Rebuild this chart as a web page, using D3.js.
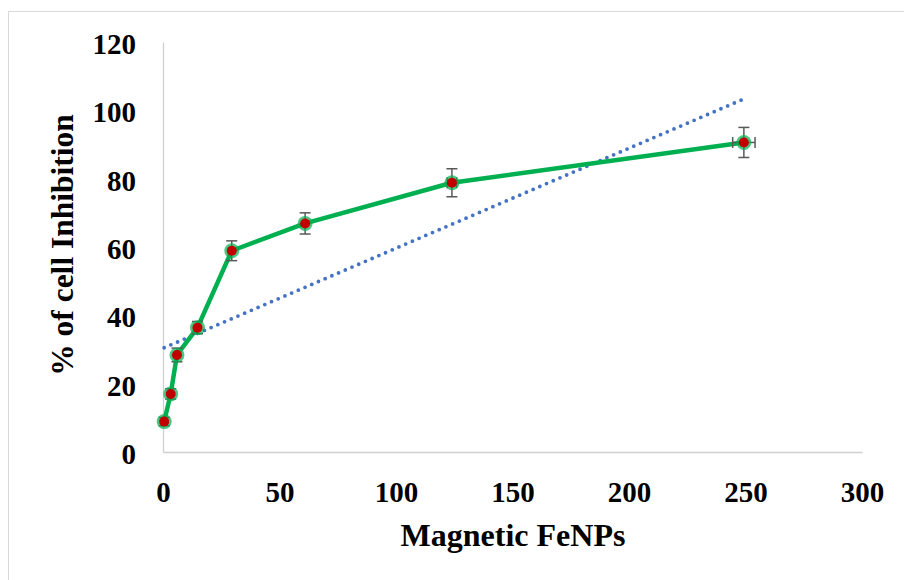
<!DOCTYPE html>
<html><head><meta charset="utf-8">
<script src="https://cdn.jsdelivr.net/npm/d3@7"></script>
<style>body{margin:0;background:#fff}svg{display:block}</style>
</head><body><svg id="c" width="904" height="580"></svg>
<script>
const concentrations = [0.5, 3.3, 6.0, 14.8, 29.5, 61.0, 124.0, 249.3];
const inhibition = [8.9, 17.0, 28.4, 36.4, 58.9, 66.9, 78.8, 90.6];
const yError = [1.2, 1.5, 2.0, 1.8, 2.9, 3.1, 4.1, 4.4];
const xError = [0, 0, 0, 0, 0, 0, 2.0, 4.8];
const xTicks = [0, 50, 100, 150, 200, 250, 300];
const yTicks = [0, 20, 40, 60, 80, 100, 120];
const xTitle = "Magnetic FeNPs";
const yTitle = "% of cell Inhibition";

const svg = d3.select("#c");
const x = d3.scaleLinear().domain([0, 300]).range([163, 862]);
const y = d3.scaleLinear().domain([0, 120]).range([452, 42]);
const font = "'Liberation Serif','Times New Roman',serif";

// outer frame
svg.append("rect").attr("x", 8.5).attr("y", 11.5).attr("width", 1000).attr("height", 1000)
  .attr("fill", "none").attr("stroke", "#d9d9d9").attr("stroke-width", 1);

// axes
const xAxis = d3.axisBottom(x).tickValues(xTicks).tickSize(0).tickPadding(0);
const gx = svg.append("g").attr("transform", `translate(0,${y(0)})`).call(xAxis);
gx.select(".domain").attr("stroke", "#d0d0d0").attr("stroke-width", 1.3);
gx.selectAll("text").attr("font-family", font).attr("font-weight", "bold")
  .attr("font-size", 29).attr("fill", "#000").attr("dy", null).attr("y", 50);

const yAxis = d3.axisLeft(y).tickValues(yTicks).tickSize(0).tickPadding(27);
const gy = svg.append("g").attr("transform", `translate(${x(0)},0)`).call(yAxis);
gy.select(".domain").attr("stroke", "#d0d0d0").attr("stroke-width", 1.3);
gy.selectAll("text").attr("font-family", font).attr("font-weight", "bold")
  .attr("font-size", 29).attr("fill", "#000").attr("dy", "0.4em");

// titles
svg.append("text").attr("x", 513).attr("y", 546).attr("text-anchor", "middle")
  .attr("font-family", font).attr("font-weight", "bold").attr("font-size", 32).text(xTitle);
svg.append("text").attr("transform", "translate(73,245) rotate(-90)").attr("text-anchor", "middle")
  .attr("font-family", font).attr("font-weight", "bold").attr("font-size", 31.5).text(yTitle);

const pts = concentrations.map((c, i) => ({x: c, y: inhibition[i], ey: yError[i], ex: xError[i]}));

// linear trendline (least squares)
const mx = d3.mean(concentrations), my = d3.mean(inhibition);
const slope = d3.sum(pts, p => (p.x - mx) * (p.y - my)) / d3.sum(pts, p => (p.x - mx) ** 2);
const icpt = my - slope * mx;
const tx = d3.extent(concentrations);
svg.append("line").attr("x1", x(tx[0])).attr("y1", y(icpt + slope * tx[0]))
  .attr("x2", x(tx[1])).attr("y2", y(icpt + slope * tx[1]))
  .attr("stroke", "#4472C4").attr("stroke-width", 3.8).attr("stroke-linecap", "round")
  .attr("stroke-dasharray", "0 7.3");

// line
svg.append("path").datum(pts)
  .attr("d", d3.line().x(d => x(d.x)).y(d => y(d.y)))
  .attr("fill", "none").attr("stroke", "#00B050").attr("stroke-width", 4.5)
  .attr("stroke-linejoin", "round");

// error bars
const eb = svg.append("g").attr("stroke", "#595959").attr("stroke-width", 1.5);
pts.forEach(p => {
  const cx = x(p.x), cy = y(p.y);
  if (p.ey > 0) {
    eb.append("line").attr("x1", cx).attr("x2", cx).attr("y1", y(p.y + p.ey)).attr("y2", y(p.y - p.ey));
    eb.append("line").attr("x1", cx - 5.5).attr("x2", cx + 5.5).attr("y1", y(p.y + p.ey)).attr("y2", y(p.y + p.ey));
    eb.append("line").attr("x1", cx - 5.5).attr("x2", cx + 5.5).attr("y1", y(p.y - p.ey)).attr("y2", y(p.y - p.ey));
  }
  if (p.ex > 0) {
    eb.append("line").attr("y1", cy).attr("y2", cy).attr("x1", x(p.x - p.ex)).attr("x2", x(p.x + p.ex));
    eb.append("line").attr("y1", cy - 5.5).attr("y2", cy + 5.5).attr("x1", x(p.x - p.ex)).attr("x2", x(p.x - p.ex));
    eb.append("line").attr("y1", cy - 5.5).attr("y2", cy + 5.5).attr("x1", x(p.x + p.ex)).attr("x2", x(p.x + p.ex));
  }
});

// markers
svg.append("g").selectAll("circle").data(pts).join("circle")
  .attr("cx", d => x(d.x)).attr("cy", d => y(d.y)).attr("r", 7.5)
  .attr("fill", "#00B050").attr("opacity", 0.7);
svg.append("g").selectAll("circle").data(pts).join("circle")
  .attr("cx", d => x(d.x)).attr("cy", d => y(d.y)).attr("r", 5)
  .attr("fill", "#C00000");
</script></body></html>
